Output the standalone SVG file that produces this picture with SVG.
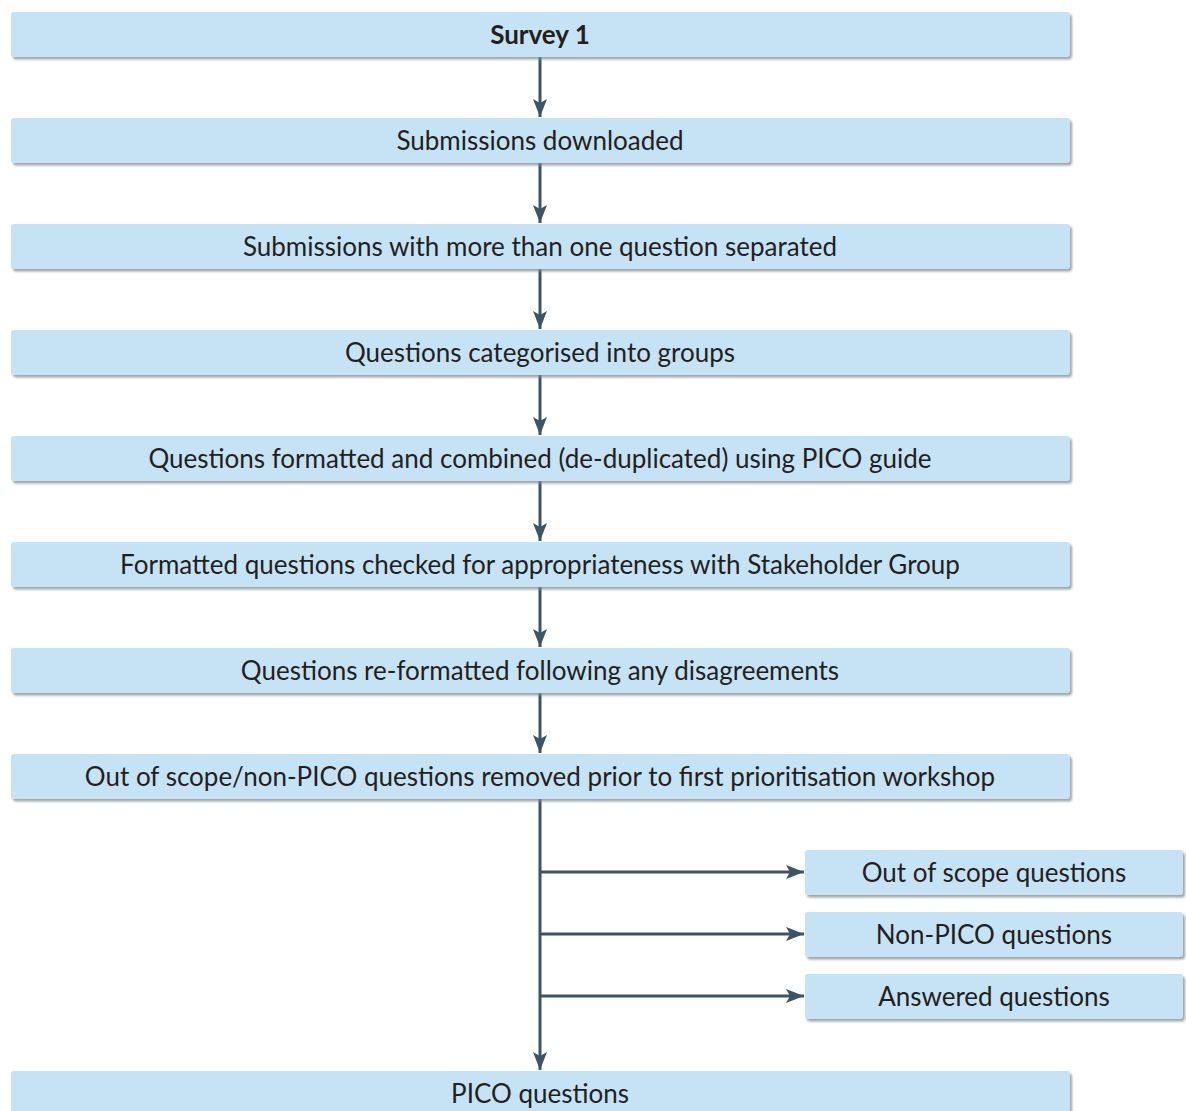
<svg xmlns="http://www.w3.org/2000/svg" width="1186" height="1111" viewBox="0 0 1186 1111">
<defs>
<filter id="sh" x="-5%" y="-20%" width="110%" height="160%">
<feDropShadow dx="2" dy="2.5" stdDeviation="1.2" flood-color="#808890" flood-opacity="0.75"/>
</filter>
<marker id="ah" markerWidth="18" markerHeight="14" refX="18" refY="7" orient="auto" markerUnits="userSpaceOnUse" viewBox="0 0 18 14">
<path d="M0,0 L18,7 L0,14 L4,7 Z" fill="#3d5467"/>
</marker>
</defs>
<style>
.box{fill:#c6e3f5;filter:url(#sh)}
.t{font-family:"Lato","Liberation Sans",sans-serif;font-size:26px;fill:#231f20;text-anchor:middle;dominant-baseline:central}
.b{font-weight:bold}
.c{stroke:#3d5467;stroke-width:3;fill:none}
</style>
<rect width="1186" height="1111" fill="#ffffff"/>
<g id="connectors">
<line class="c" x1="540" y1="57" x2="540" y2="117" marker-end="url(#ah)"/>
<line class="c" x1="540" y1="163" x2="540" y2="223" marker-end="url(#ah)"/>
<line class="c" x1="540" y1="269" x2="540" y2="329" marker-end="url(#ah)"/>
<line class="c" x1="540" y1="375" x2="540" y2="435" marker-end="url(#ah)"/>
<line class="c" x1="540" y1="481" x2="540" y2="541" marker-end="url(#ah)"/>
<line class="c" x1="540" y1="587" x2="540" y2="647" marker-end="url(#ah)"/>
<line class="c" x1="540" y1="693" x2="540" y2="753" marker-end="url(#ah)"/>
<line class="c" x1="540" y1="799" x2="540" y2="1070" marker-end="url(#ah)"/>
<line class="c" x1="540" y1="872" x2="804" y2="872" marker-end="url(#ah)"/>
<line class="c" x1="540" y1="934" x2="804" y2="934" marker-end="url(#ah)"/>
<line class="c" x1="540" y1="996" x2="804" y2="996" marker-end="url(#ah)"/>
</g>
<g id="n1"><rect class="box" x="11" y="12" width="1059" height="45" rx="3"/><text class="t b" x="540" y="34">Survey 1</text></g>
<g id="n2"><rect class="box" x="11" y="118" width="1059" height="45" rx="3"/><text class="t" x="540" y="140">Submissions downloaded</text></g>
<g id="n3"><rect class="box" x="11" y="224" width="1059" height="45" rx="3"/><text class="t" x="540" y="246">Submissions with more than one question separated</text></g>
<g id="n4"><rect class="box" x="11" y="330" width="1059" height="45" rx="3"/><text class="t" x="540" y="352">Questions categorised into groups</text></g>
<g id="n5"><rect class="box" x="11" y="436" width="1059" height="45" rx="3"/><text class="t" x="540" y="458">Questions formatted and combined (de-duplicated) using PICO guide</text></g>
<g id="n6"><rect class="box" x="11" y="542" width="1059" height="45" rx="3"/><text class="t" x="540" y="564">Formatted questions checked for appropriateness with Stakeholder Group</text></g>
<g id="n7"><rect class="box" x="11" y="648" width="1059" height="45" rx="3"/><text class="t" x="540" y="670">Questions re-formatted following any disagreements</text></g>
<g id="n8"><rect class="box" x="11" y="754" width="1059" height="45" rx="3"/><text class="t" x="540" y="776">Out of scope/non-PICO questions removed prior to first prioritisation workshop</text></g>
<g id="n9"><rect class="box" x="805" y="850" width="378" height="45" rx="3"/><text class="t" x="994" y="872">Out of scope questions</text></g>
<g id="n10"><rect class="box" x="805" y="912" width="378" height="45" rx="3"/><text class="t" x="994" y="934">Non-PICO questions</text></g>
<g id="n11"><rect class="box" x="805" y="974" width="378" height="45" rx="3"/><text class="t" x="994" y="996">Answered questions</text></g>
<g id="n12"><rect class="box" x="11" y="1071" width="1059" height="45" rx="3"/><text class="t" x="540" y="1093">PICO questions</text></g>
</svg>
